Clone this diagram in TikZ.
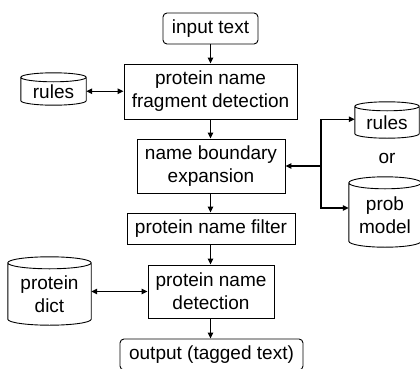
\documentclass[tikz,border=0pt]{standalone}
\usepackage{fontspec}
\setmainfont{Liberation Sans}
\usetikzlibrary{arrows.meta,calc}
\tikzset{
  base/.style={draw=none, inner sep=0pt, align=center, font=\fontsize{19}{23}\selectfont},
  boxnode/.style={base, draw, line width=0.9pt},
  roundbox/.style={boxnode, rounded corners=4pt},
  cyl/.style={base},
  cylline/.style={draw, line width=0.9pt},
  conn/.style={line width=1.3pt, -{Triangle[length=6pt,width=5.5pt]}},
  dconn/.style={line width=1.3pt, {Triangle[length=6pt,width=5.5pt]}-{Triangle[length=6pt,width=5.5pt]}},
}
\newcommand\cylout[2]{% node name, ry
  \draw[cylline] let \p1=(#1.north west), \p2=(#1.south east), \n1={(\x2-\x1)/2} in
    (\x1,\y1) -- (\x1,\y2+#2pt)
    arc[start angle=180,end angle=360,x radius=\n1,y radius=#2pt]
    -- (\x2,\y1)
    arc[start angle=0,end angle=180,x radius=\n1,y radius=#2pt]
    arc[start angle=180,end angle=360,x radius=\n1,y radius=#2pt];
}
\begin{document}
\begin{tikzpicture}[x=1pt,y=1pt]
\useasboundingbox (0,0) rectangle (420,368);
% main column
\node[roundbox, minimum width=95pt, minimum height=31pt] (input) at (210.5,339.5) {input text};
\node[boxnode, minimum width=173pt, minimum height=55pt] (frag) at (210.5,276.5) {protein name\\fragment detection};
\node[boxnode, minimum width=148pt, minimum height=54pt] (nbe) at (211,202) {name boundary\\expansion};
\node[boxnode, minimum width=168pt, minimum height=31pt] (filter) at (211,139.5) {protein name filter};
\node[boxnode, minimum width=126pt, minimum height=53pt] (detect) at (211,76.5) {protein name\\detection};
\node[roundbox, minimum width=183pt, minimum height=31pt] (output) at (211.5,13.5) {output (tagged text)};
% cylinders
\node[cyl, minimum width=65pt, minimum height=27.5pt] (rulesL) at (53.5,276.75) {rules};
\cylout{rulesL}{4.5}
\node[cyl, minimum width=64pt, minimum height=31.5pt] (rulesR) at (387,245.75) {rules};
\cylout{rulesR}{4.5}
\node[base] (or) at (387,210) {or};
\node[cyl, minimum width=72pt, minimum height=64pt] (prob) at (385,153) {prob\\model};
\cylout{prob}{6}
\node[cyl, minimum width=83pt, minimum height=62pt] (dict) at (49.5,74) {protein\\dict};
\cylout{dict}{6}
% vertical flow
\draw[conn] (input.south) -- (input.south |- frag.north);
\draw[conn] (frag.south) -- (frag.south |- nbe.north);
\draw[conn] (frag.south |- nbe.south) -- (frag.south |- filter.north);
\draw[conn] (frag.south |- filter.south) -- (frag.south |- detect.north);
\draw[conn] (frag.south |- detect.south) -- (frag.south |- output.north);
% side links
\draw[dconn] (rulesL.east) -- (frag.west |- rulesL.east);
\draw[dconn] (detect.west -| dict.east) -- (detect.west);
\coordinate (junc) at (321,202);
\draw[conn] (junc) -- (nbe.east);
\draw[conn] (junc) |- ([yshift=3pt]rulesR.west);
\draw[conn] (junc) |- ([yshift=7pt]prob.west);
\end{tikzpicture}
\end{document}
